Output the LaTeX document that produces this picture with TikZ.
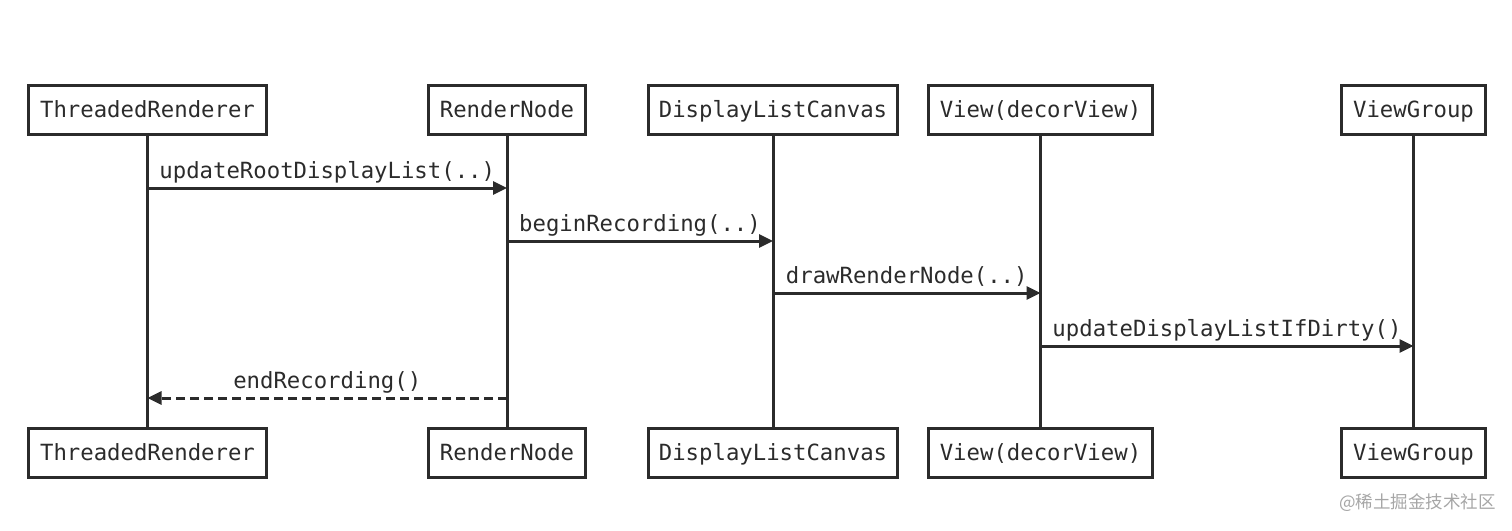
\documentclass[tikz,border=0pt]{standalone}
\usepackage{fontspec}
\setmonofont{DejaVu Sans Mono}
\newfontfamily\cjkfont{Noto Sans CJK SC}
\usetikzlibrary{arrows.meta,calc}
\definecolor{ink}{HTML}{2B2B2B}
\begin{document}
\begin{tikzpicture}[x=1pt,y=-1pt,
  actor/.style={draw=ink,line width=3pt,minimum height=49pt,inner sep=0pt,
    text height=14pt,text depth=0pt,
    font=\ttfamily\fontsize{22.3}{26}\selectfont,text=ink},
  life/.style={draw=ink,line width=3pt},
  msg/.style={draw=ink,line width=3pt,-{Triangle[length=14pt,width=13pt]}},
  ret/.style={msg,dash pattern=on 9pt off 5pt},
  lbl/.style={anchor=base,font=\ttfamily\fontsize{22.3}{26}\selectfont,text=ink,inner sep=0pt}]
\useasboundingbox (0,0) rectangle (1512,530);
% top actors
\node[actor,minimum width=238pt] (t1) at (147.5,110) {ThreadedRenderer};
\node[actor,minimum width=157pt] (t2) at (507,110) {RenderNode};
\node[actor,minimum width=249pt] (t3) at (773,110) {DisplayListCanvas};
\node[actor,minimum width=224pt] (t4) at (1040.5,110) {View(decorView)};
\node[actor,minimum width=144pt] (t5) at (1413.5,110) {ViewGroup};
% bottom actors
\node[actor,minimum width=238pt] (b1) at (147.5,453) {ThreadedRenderer};
\node[actor,minimum width=157pt] (b2) at (507,453) {RenderNode};
\node[actor,minimum width=249pt] (b3) at (773,453) {DisplayListCanvas};
\node[actor,minimum width=224pt] (b4) at (1040.5,453) {View(decorView)};
\node[actor,minimum width=144pt] (b5) at (1413.5,453) {ViewGroup};
% lifelines
\foreach \i in {1,...,5} {\draw[life] (t\i.south) -- (b\i.north);}
% message points
\coordinate (a1) at (t1.south |- 0,188); \coordinate (a2) at (t2.south |- 0,188);
\coordinate (c2) at (t2.south |- 0,241); \coordinate (c3) at (t3.south |- 0,241);
\coordinate (d3) at (t3.south |- 0,293); \coordinate (d4) at (t4.south |- 0,293);
\coordinate (e4) at (t4.south |- 0,346); \coordinate (e5) at (t5.south |- 0,346);
\coordinate (f2) at (t2.south |- 0,398); \coordinate (f1) at (t1.south |- 0,398);
\draw[msg] (a1) -- (a2);
\draw[msg] (c2) -- (c3);
\draw[msg] (d3) -- (d4);
\draw[msg] (e4) -- (e5);
\draw[ret] (f2) -- (f1);
\node[lbl] (l1) at ([yshift=10pt]$(a1)!0.5!(a2)$) {updateRootDisplayList(..)};
\node[lbl] (l2) at ([yshift=10pt]$(c2)!0.5!(c3)$) {beginRecording(..)};
\node[lbl] (l3) at ([yshift=10pt]$(d3)!0.5!(d4)$) {drawRenderNode(..)};
\node[lbl] (l4) at ([yshift=10pt]$(e4)!0.5!(e5)$) {updateDisplayListIfDirty()};
\node[lbl] (l5) at ([yshift=10pt]$(f1)!0.5!(f2)$) {endRecording()};
% watermark
\node[anchor=east,inner sep=0pt,text=black!35,font=\cjkfont\fontsize{17.5}{20}\selectfont] (wm) at (1496,503) {@稀土掘金技术社区};
\end{tikzpicture}
\end{document}
